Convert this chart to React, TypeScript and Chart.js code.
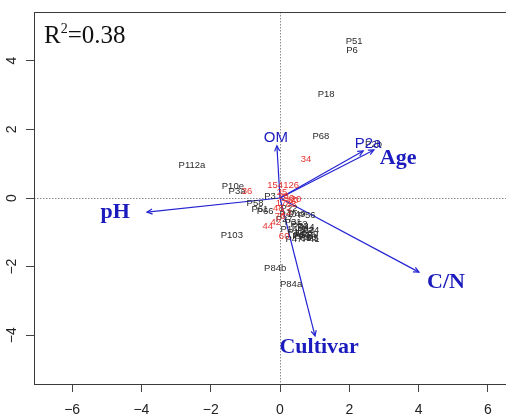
import React, { useEffect, useRef } from "react";
import { Chart, registerables } from "chart.js";

Chart.register(...registerables);

// ---- data ----
const X_MIN = -7.1;
const X_MAX = 7.1;
const Y_MIN = -5.42;
const Y_MAX = 5.42;
const TICK_STEP = 2;

const siteLabels = [
  "P51", "P6", "P18", "P68", "P112a", "P10e", "P3a", "P103", "P84b", "P84a",
  "P3", "P58", "P61", "P66", "P22", "P40", "P49", "P56", "P27", "P31",
  "P33", "P44", "P24", "P12", "P71", "P38", "P5", "P14", "P47",
  "P9", "P16", "P29", "P35", "P41", "P52", "P63", "P2b",
];
const siteX = [
  2.14, 2.08, 1.33, 1.18, -2.54, -1.36, -1.24, -1.39, -0.14, 0.32,
  -0.29, -0.72, -0.58, -0.43, 0.26, 0.23, 0.49, 0.78, 0.12, 0.38,
  0.58, 0.75, 0.89, 0.46, 0.63, 0.81, 0.95, 0.26, 0.4,
  0.52, 0.7, 0.86, 0.66, 0.9, 0.55, 0.74, 2.7,
];
const siteY = [
  4.55, 4.29, 3.03, 1.81, 0.96, 0.35, 0.2, -1.08, -2.04, -2.51,
  0.06, -0.17, -0.32, -0.38, -0.29, -0.47, -0.47, -0.5, -0.61, -0.7,
  -0.82, -0.87, -0.93, -0.99, -1.08, -1.14, -1.17, -0.9, -1.2,
  -1.13, -1.02, -1.06, -1.19, -1.2, -0.78, -0.95, 1.57,
];

const redLabels = ["154", "126", "36", "34", "25", "50", "20", "17", "88", "13", "76", "42", "44", "60", "23", "80", "48"];
const redX = [-0.14, 0.32, -0.95, 0.75, 0.06, 0.26, 0.46, 0.03, 0.32, 0.17, 0.0, -0.12, -0.35, 0.12, 0.1, 0.38, -0.05];
const redY = [0.38, 0.38, 0.2, 1.14, 0.15, 0.0, -0.03, -0.17, -0.2, -0.41, -0.55, -0.7, -0.82, -1.11, 0.06, -0.08, -0.3];

// environmental vectors (arrow tips)
const arrowX = [-3.84, -0.09, 2.4, 2.71, 4.01, 1.01];
const arrowY = [-0.41, 1.52, 1.37, 1.4, -2.16, -4.02];

// vector labels
const vecLabels = ["pH", "OM", "P2a", "Age", "C/N", "Cultivar"];
const vecLabelX = [-4.76, -0.12, 2.54, 3.41, 4.79, 1.13];
const vecLabelY = [-0.41, 1.75, 1.57, 1.17, -2.45, -4.34];

const R2_TEXT = "0.38";

// ---- styles ----
const BLUE = "rgb(36,36,210)";
const LABEL_BLUE = "rgb(28,28,190)";
const SANS = "'Liberation Sans', Arial, sans-serif";
const SERIF = "'Liberation Serif', 'Times New Roman', serif";
const SANS_VECTORS = new Set(["OM", "P2a"]);

const fmt = (v: number) => String(v).replace("-", "\u2212");

const biplotPlugin = {
  id: "biplot",
  beforeDatasetsDraw(chart: any) {
    const { ctx, chartArea: a, scales } = chart;
    const x0 = Math.round(scales.x.getPixelForValue(0)) + 0.5;
    const y0 = Math.round(scales.y.getPixelForValue(0)) + 0.5;
    ctx.save();
    ctx.strokeStyle = "#8a8a8a";
    ctx.lineWidth = 1;
    ctx.setLineDash([1.5, 1.5]);
    ctx.beginPath();
    ctx.moveTo(x0, a.top);
    ctx.lineTo(x0, a.bottom);
    ctx.moveTo(a.left, y0);
    ctx.lineTo(a.right, y0);
    ctx.stroke();
    ctx.restore();
  },
  afterDatasetsDraw(chart: any) {
    const { ctx, chartArea: a, scales } = chart;
    ctx.save();

    // site labels
    const drawLabels = (dsIndex: number, labels: string[], color: string) => {
      const meta = chart.getDatasetMeta(dsIndex);
      ctx.fillStyle = color;
      ctx.font = `9.5px ${SANS}`;
      ctx.textAlign = "center";
      ctx.textBaseline = "middle";
      meta.data.forEach((el: any, i: number) => {
        ctx.fillText(labels[i], el.x, el.y);
      });
    };
    drawLabels(0, siteLabels, "#2a2a2a");
    drawLabels(1, redLabels, "#e8322f");

    // arrowheads
    ctx.strokeStyle = BLUE;
    ctx.lineWidth = 1.2;
    for (let i = 0; i < arrowX.length; i++) {
      const meta = chart.getDatasetMeta(2 + i);
      const p0 = meta.data[0];
      const p1 = meta.data[1];
      const ang = Math.atan2(p1.y - p0.y, p1.x - p0.x);
      const len = 6;
      const spread = Math.PI / 7;
      ctx.beginPath();
      ctx.moveTo(p1.x - len * Math.cos(ang - spread), p1.y - len * Math.sin(ang - spread));
      ctx.lineTo(p1.x, p1.y);
      ctx.lineTo(p1.x - len * Math.cos(ang + spread), p1.y - len * Math.sin(ang + spread));
      ctx.stroke();
    }

    // vector labels
    ctx.textAlign = "center";
    ctx.textBaseline = "middle";
    ctx.fillStyle = LABEL_BLUE;
    vecLabels.forEach((t, i) => {
      ctx.font = SANS_VECTORS.has(t) ? `15px ${SANS}` : `bold 22px ${SERIF}`;
      ctx.fillText(t, scales.x.getPixelForValue(vecLabelX[i]), scales.y.getPixelForValue(vecLabelY[i]));
    });

    // R^2 annotation
    ctx.fillStyle = "#111";
    ctx.textAlign = "left";
    ctx.textBaseline = "alphabetic";
    let tx = a.left + 10;
    const by = a.top + 31;
    ctx.font = `25px ${SERIF}`;
    ctx.fillText("R", tx, by);
    tx += ctx.measureText("R").width;
    ctx.font = `14px ${SERIF}`;
    ctx.fillText("2", tx, by - 10);
    tx += ctx.measureText("2").width;
    ctx.font = `25px ${SERIF}`;
    ctx.fillText("=" + R2_TEXT, tx, by);

    // y tick labels (rotated, R style)
    ctx.fillStyle = "#222";
    ctx.font = `14px ${SANS}`;
    ctx.textAlign = "center";
    ctx.textBaseline = "middle";
    scales.y.ticks.forEach((t: any) => {
      const py = scales.y.getPixelForValue(t.value);
      ctx.save();
      ctx.translate(12, py);
      ctx.rotate(-Math.PI / 2);
      ctx.fillText(fmt(t.value), 0, 0);
      ctx.restore();
    });

    // box
    ctx.strokeStyle = "#3a3a3a";
    ctx.lineWidth = 1;
    ctx.strokeRect(Math.round(a.left) + 0.5, Math.round(a.top) + 0.5, Math.round(a.right - a.left), Math.round(a.bottom - a.top));
    ctx.restore();
  },
};

export default function App() {
  const ref = useRef<HTMLCanvasElement | null>(null);

  useEffect(() => {
    if (!ref.current) return;
    const arrowSets = arrowX.map((ax, i) => ({
      data: [
        { x: 0, y: 0 },
        { x: ax, y: arrowY[i] },
      ],
      showLine: true,
      borderColor: BLUE,
      borderWidth: 1.2,
      pointRadius: 0,
      fill: false,
    }));
    const chart = new Chart(ref.current, {
      type: "scatter",
      data: {
        datasets: [
          { data: siteX.map((x, i) => ({ x, y: siteY[i] })), pointRadius: 0 },
          { data: redX.map((x, i) => ({ x, y: redY[i] })), pointRadius: 0 },
          ...arrowSets,
        ] as any,
      },
      options: {
        animation: false,
        responsive: false,
        devicePixelRatio: 1,
        layout: { padding: { top: 12, right: 20, left: 0, bottom: 0 } },
        plugins: { legend: { display: false }, tooltip: { enabled: false } },
        scales: {
          x: {
            type: "linear",
            min: X_MIN,
            max: X_MAX,
            afterFit: (s: any) => {
              s.height = 36;
            },
            grid: { drawOnChartArea: false, drawTicks: true, tickLength: 8, color: "#444" },
            border: { display: false },
            ticks: {
              stepSize: TICK_STEP,
              includeBounds: false,
              padding: 10,
              color: "#222",
              font: { family: SANS, size: 14 },
              maxRotation: 0,
              callback: (v: any) => fmt(Number(v)),
            },
          },
          y: {
            type: "linear",
            min: Y_MIN,
            max: Y_MAX,
            afterFit: (s: any) => {
              s.width = 34;
            },
            grid: { drawOnChartArea: false, drawTicks: true, tickLength: 8, color: "#444" },
            border: { display: false },
            ticks: {
              stepSize: TICK_STEP,
              includeBounds: false,
              color: "rgba(0,0,0,0)",
              font: { family: SANS, size: 14 },
              callback: (v: any) => fmt(Number(v)),
            },
          },
        },
      } as any,
      plugins: [biplotPlugin],
    });
    return () => chart.destroy();
  }, []);

  return (
    <div
      style={{
        position: "fixed",
        left: 0,
        top: 0,
        width: 506,
        height: 420,
        overflow: "hidden",
        background: "#fff",
      }}
    >
      <canvas ref={ref} width={546} height={420} style={{ display: "block" }} />
    </div>
  );
}
